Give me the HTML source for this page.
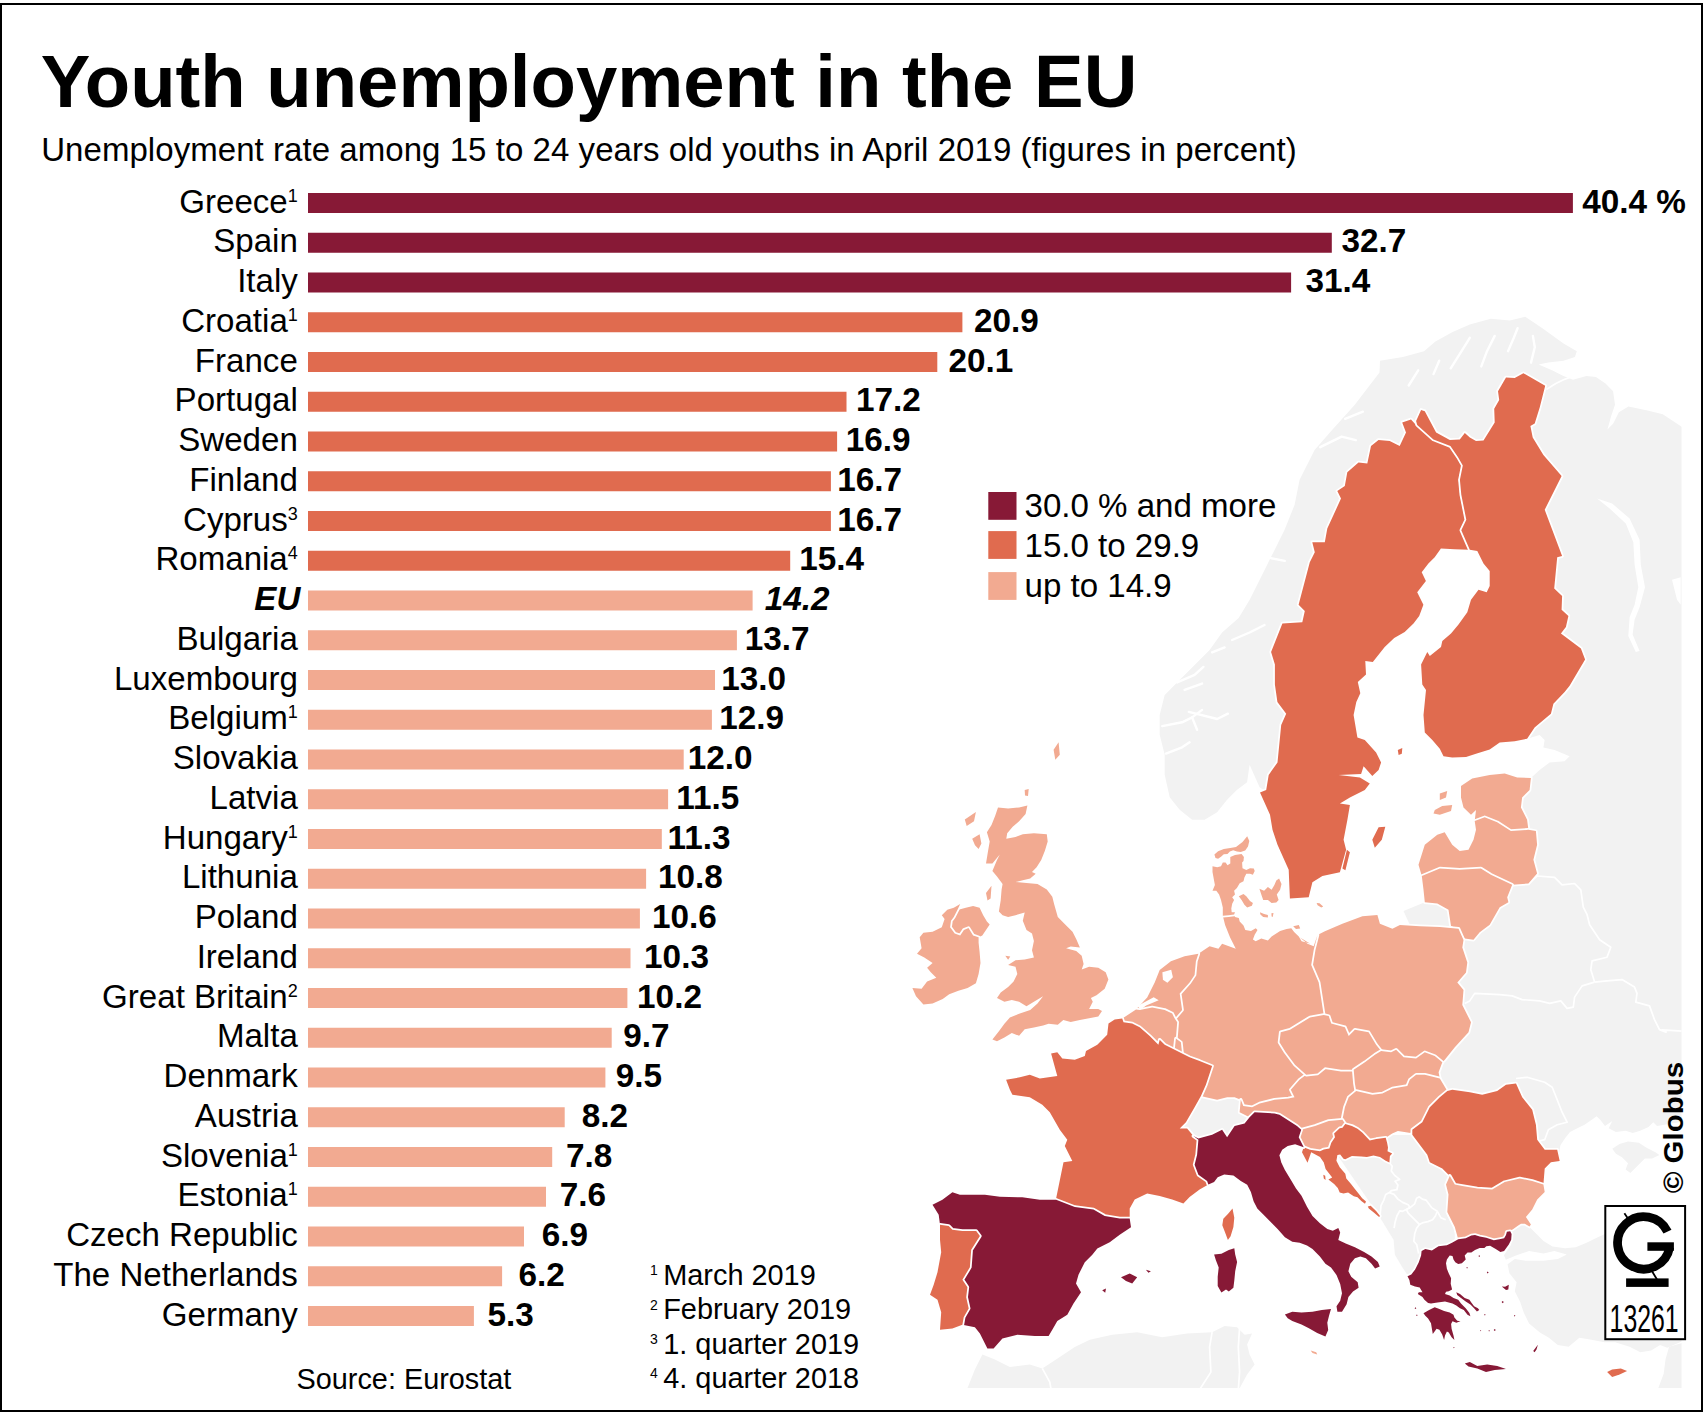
<!DOCTYPE html>
<html><head><meta charset="utf-8"><title>Youth unemployment in the EU</title>
<style>
html,body{margin:0;padding:0;background:#fff;}
body{width:1706px;height:1412px;overflow:hidden;}
svg{display:block;}
text{font-family:"Liberation Sans",sans-serif;fill:#000;}
.b{font-weight:bold;}
.i{font-style:italic;}
</style></head><body>
<svg width="1706" height="1412" viewBox="0 0 1706 1412">
<rect x="0" y="0" width="1706" height="1412" fill="#fff"/>
<defs><clipPath id="mapclip"><rect x="880" y="300" width="801.5" height="1088"/></clipPath></defs>
<g clip-path="url(#mapclip)" stroke-linejoin="round">
<path d="M1380,360.7 1402.9,356.9 1424,351.2 1435.4,341.6 1452.6,332 1469.8,324.4 1490.8,318.7 1509.9,320.6 1525.2,316.8 1542.4,328.2 1563.5,343.5 1576.8,351.2 1574.9,356.9 1563.5,360.7 1548.2,362.6 1538.6,364.5 1552,370.3 1563.5,376 1573,379.8 1586.4,376 1595.9,376.9 1605.5,383.6 1613.1,391.3 1615,404.7 1611.2,416.1 1607.4,429.5 1613.1,423.8 1618.9,412.3 1628.4,406.6 1647.5,410.4 1662.8,414.2 1685.8,429.5 1700,430 1700,1120 1693.2,1119.8 1657,1125.9 1653.3,1122.3 1648.5,1127.1 1640.1,1130.7 1632.8,1133.1 1625.6,1130.7 1615.9,1131.9 1608.7,1128.3 1612.3,1121.1 1605,1125.9 1600.2,1119.8 1596.6,1116.2 1591.8,1119.8 1584.5,1124.7 1577.3,1128.3 1570,1131.9 1565.2,1138 1560.4,1145.2 1559.2,1152.4 1520,1150 1400,1100 1400,1020 1400,940 1450,900 1470,850 1500,800 1530.9,777.9 1539.6,769.9 1549.6,762.4 1564.6,761.2 1569.6,756.2 1554.6,749.9 1543.4,747.4 1544.6,739.9 1539.6,734.9 1527.1,738.7 1500,650 1480,500 1400,500 1300,700 1267,792.3 1259.6,787.3 1249.6,764.8 1247.1,782.3 1237.1,789.8 1227.1,799.8 1217.1,812.2 1204.6,819.7 1192.1,819.7 1179.7,809.7 1169.7,797.3 1164.7,774.8 1164.7,754.8 1159.7,734.8 1159.7,714.9 1164.7,694.9 1182.1,677.4 1194.6,664.9 1209.6,649.9 1222.1,632.5 1242.1,615 1234.7,624.6 1249.7,599.7 1264.7,569.7 1274.7,549.7 1284.6,529.8 1294.6,504.8 1299.6,479.8 1314.6,449.9 1332.1,429.9 1354.6,404.9 1379.5,372.4Z" fill="#F2F2F2" stroke="none"/>
<path d="M1403.5,911 1424.8,902.2 1437.3,903.5 1448.5,909.7 1451,926 1414.8,926 1409.8,924.7Z" fill="#F2F2F2" stroke="none"/>
<path d="M1612.3,1148.8 1619.5,1144 1628,1141.6 1638.9,1142.8 1646.1,1147.6 1655.8,1152.4 1659.4,1154.9 1652.1,1158.5 1644.9,1158.5 1638.9,1164.5 1630.4,1173 1625.6,1169.4 1628,1163.3 1622,1157.3 1615.9,1153.7Z" fill="#F2F2F2" stroke="none"/>
<path d="M1337.4,1154.9 1379.9,1217.3 1387.4,1229.8 1393.6,1239.8 1394.9,1254.8 1402.3,1267.2 1407.3,1274.7 1454.8,1254.8 1454.8,1134.9 1337.4,1134.9Z" fill="#F2F2F2" stroke="none"/>
<path d="M1511.2,1233.8 1514.8,1215.9 1525.6,1215.9 1529.5,1227 1536.3,1233.8 1543.5,1241 1552.5,1246.4 1565,1248.2 1575.8,1247.3 1586.5,1242.8 1597.3,1237.4 1605.4,1233.8 1687,1224.8 1687,1341.4 1681.6,1341.4 1667.3,1347.7 1660.1,1345 1651.1,1350.4 1640.4,1352.2 1629.6,1346.8 1615.2,1342.3 1604.5,1342.3 1590.1,1339.6 1579.4,1337.8 1568.6,1346.8 1557.8,1345 1548.9,1337.8 1539.9,1332.5 1529.1,1323.5 1523.8,1312.7 1520.2,1302 1514.8,1291.2 1516.6,1282.2 1509.4,1273.3 1507.6,1264.3 1514.8,1258.9 1525.6,1260.7 1543.5,1260.7 1557.8,1258.9 1566.8,1254.4 1554.3,1250.9 1543.5,1253.5 1529.1,1250.9 1516.6,1255.3 1505.8,1259.8 1504,1255.3 1511.2,1244.6Z" fill="#F2F2F2" stroke="none"/>
<path d="M1687,1341.4 1669.1,1346.8 1665.5,1359.4 1663.7,1373.7 1658.3,1388.1 1687,1388.1Z" fill="#F2F2F2" stroke="none"/>
<path d="M967.4,1388.3 974.9,1369.6 982.4,1354.6 994.9,1359.6 1009.9,1367.1 1029.8,1364.6 1042.3,1368.4 1059.8,1357.1 1074.8,1347.1 1089.8,1339.7 1112.2,1334.7 1137.2,1332.2 1162.2,1337.2 1187.1,1333.4 1212.1,1332.2 1224.6,1325.9 1237.1,1327.2 1244.6,1334.7 1252.1,1333.4 1247.1,1344.6 1249.6,1354.6 1254.6,1364.6 1247.1,1374.6 1239.6,1388.3Z" fill="#F2F2F2" stroke="none"/>
<path d="M1200.9,1096 1205.9,1097.3 1217.1,1099.8 1227.1,1097.3 1234.6,1097.3 1240.8,1099.8 1239.6,1112.2 1249.6,1117.2 1244.6,1123.5 1234.6,1126 1227.1,1137.2 1222.1,1129.7 1212.1,1134.7 1198.4,1138.5 1193.4,1136 1187.1,1128.5 1179.7,1128.5 1185.9,1122.2 1194.6,1107.2 1200.9,1096Z" fill="#F2F2F2" stroke="none"/>
<path d="M1597.1,498.6 1612.1,503.5 1629.6,518.5 1639.6,539.8 1640.8,564.7 1645,587.2 1639.6,607.2 1634.6,619.7 1632.6,634.6 1639.6,650.9 1635.8,652.1 1628.3,635.9 1629.6,617.2 1634.6,604.7 1638.3,587.2 1634.6,564.7 1633.3,542.2 1625.8,523.5 1609.6,508.5Z" fill="#fff" stroke="none"/>
<path d="M1680.7,577.2 1672,579.7 1677,599.7 1680.7,604.7Z" fill="#fff" stroke="none"/>
<polyline points="1162.2,726.1 1182.1,722.3 1192.1,717.4 1202.1,709.9" fill="none" stroke="#fff" stroke-width="2.4" stroke-linecap="round"/>
<polyline points="1192.1,717.4 1197.1,729.8" fill="none" stroke="#fff" stroke-width="2.4" stroke-linecap="round"/>
<polyline points="1165.9,753.6 1182.1,747.3 1189.6,742.3" fill="none" stroke="#fff" stroke-width="2.4" stroke-linecap="round"/>
<polyline points="1177.2,682.4 1194.6,674.9 1203.4,666.9" fill="none" stroke="#fff" stroke-width="2.4" stroke-linecap="round"/>
<polyline points="1184.6,689.9 1202.1,683.6" fill="none" stroke="#fff" stroke-width="2.4" stroke-linecap="round"/>
<polyline points="1232.1,640 1249.6,632.5 1264.5,625" fill="none" stroke="#fff" stroke-width="2.4" stroke-linecap="round"/>
<polyline points="1212.1,652.4 1224.6,647.4" fill="none" stroke="#fff" stroke-width="2.4" stroke-linecap="round"/>
<polyline points="1188.8,711.9 1217.2,719 1227.9,713.7" fill="none" stroke="#fff" stroke-width="2.4" stroke-linecap="round"/>
<polyline points="1267,557.4 1284.7,560.9" fill="none" stroke="#fff" stroke-width="2.4" stroke-linecap="round"/>
<polyline points="1320.2,447.2 1341.6,436.6 1355.8,440.1" fill="none" stroke="#fff" stroke-width="2.4" stroke-linecap="round"/>
<polyline points="1345.1,418.8 1362.9,411.7" fill="none" stroke="#fff" stroke-width="2.4" stroke-linecap="round"/>
<polyline points="1450.7,368.3 1460.3,353.1 1469.8,337.8" fill="none" stroke="#fff" stroke-width="2.4" stroke-linecap="round"/>
<polyline points="1481.3,366.4 1487,351.2 1494.7,335.9" fill="none" stroke="#fff" stroke-width="2.4" stroke-linecap="round"/>
<polyline points="1508,351.2 1513.8,337.8 1517.6,328.2" fill="none" stroke="#fff" stroke-width="2.4" stroke-linecap="round"/>
<polyline points="1531,362.6 1534.8,347.3 1532.9,335.9" fill="none" stroke="#fff" stroke-width="2.4" stroke-linecap="round"/>
<polyline points="1433.5,374.1 1439.2,360.7" fill="none" stroke="#fff" stroke-width="2.4" stroke-linecap="round"/>
<polyline points="1408.7,385.5 1418.2,370.3" fill="none" stroke="#fff" stroke-width="2.4" stroke-linecap="round"/>
<polyline points="1389.4,1162.5 1392.2,1166.3 1391.3,1171 1395,1175.7 1399.7,1179.4 1395,1181.3 1397.9,1185 1396.9,1189.7 1391.3,1190.7 1389.4,1192.6 1385.7,1194.4 1383.8,1200.1 1381,1205.7 1380,1216" fill="none" stroke="#fff" stroke-width="1.7"/>
<polyline points="1389.4,1192.6 1394.1,1194.4 1397.9,1199.1 1402.6,1202.4 1408.2,1204.7 1410.1,1207.6 1406.3,1209.4 1402.6,1211.3 1399.7,1210.8 1396.9,1216 1395,1222.6 1394.1,1228.2" fill="none" stroke="#fff" stroke-width="1.7"/>
<polyline points="1410.1,1207.6 1414.7,1203.8 1416.6,1198.2 1419.4,1196.8 1422.3,1199.1 1426,1200.1 1428.8,1203.8 1431.6,1207.6 1437.3,1211.3 1435.4,1216 1432.6,1219.8 1427.9,1221.6 1423.2,1222.6 1419.4,1224.4 1415.7,1220.7 1412.9,1217.9 1408.2,1213.2 1406.3,1209.4 1410.1,1207.6" fill="none" stroke="#fff" stroke-width="1.7"/>
<polyline points="1419.4,1224.4 1416.6,1228.2 1414.7,1233.8 1413.8,1241.3 1416.8,1244.8 1418.6,1253.5" fill="none" stroke="#fff" stroke-width="1.7"/>
<polyline points="1437.3,1211.3 1441,1217.9 1445.7,1219.8" fill="none" stroke="#fff" stroke-width="1.7"/>
<polyline points="1528.4,883.5 1537.1,876 1554.6,877.3 1562.1,884.8 1574.6,883.5 1580.8,889.8 1583.3,907.2 1587.1,914.7 1589.6,924.7 1599.6,939.7 1610.8,947.2 1607,957.2 1592.1,960.9 1590.8,969.7 1594.6,982.1" fill="none" stroke="#fff" stroke-width="1.7"/>
<polyline points="1594.6,982.1 1582.1,985.9 1574.6,997.1 1573.3,1007.1 1567.1,1008.4 1560.8,1000.9 1549.6,1003.4 1539.6,1000.9 1522.1,999.6 1512.2,995.9 1499.7,994.6 1474.7,993.4 1469.7,1000.9 1464.7,1003.4" fill="none" stroke="#fff" stroke-width="1.7"/>
<polyline points="1594.6,982.1 1607,980.9 1622,979.6 1634.5,987.1 1637,993.4 1635.8,1002.1 1649.5,1005.9 1654.5,1019.6 1659.5,1029.6 1666,1032.1 1662,1029.8 1682,1031.1" fill="none" stroke="#fff" stroke-width="1.7"/>
<polyline points="1516,1078.5 1527.2,1077.3 1544.7,1082.3 1552.2,1087.3 1557.2,1099.8 1562.1,1112.2 1567.1,1122.2 1557.2,1124.7 1548.4,1129.7 1544.7,1139.7 1539.7,1140.9" fill="none" stroke="#fff" stroke-width="1.7"/>
<polyline points="1546.3,389.4 1555.8,383.6 1563.5,379.8 1571.1,376.9" fill="none" stroke="#fff" stroke-width="1.7"/>
<polyline points="1042.3,1368.4 1049.8,1382.1 1051.1,1389.6" fill="none" stroke="#fff" stroke-width="1.7"/>
<polyline points="1212.1,1332.2 1209.6,1347.1 1210.9,1372.1 1199.6,1389.6" fill="none" stroke="#fff" stroke-width="1.7"/>
<polyline points="1239.6,1327.2 1238.3,1347.1 1239.6,1372.1 1238.3,1389.6" fill="none" stroke="#fff" stroke-width="1.7"/>
<path d="M1402.2,422.4 1411,419.4 1416,424.9 1432.2,439.4 1449.2,446.1 1456.7,456.9 1461.6,465.4 1458.7,479.8 1460.1,494.8 1465.1,519.8 1460.1,530.3 1469.6,549.8 1454.7,549.3 1440.9,548.5 1434.7,557.2 1428.4,563.5 1421.7,572.2 1425.9,581 1417.2,592.2 1423.4,604.7 1419.2,615.9 1413.5,623.4 1404.7,632.1 1394.2,637.9 1384.7,647.1 1372.8,662.1 1365.3,660.9 1366,674.6 1357.8,682.1 1360.3,693.3 1356.3,702.1 1353.6,715 1357.4,737.4 1364.8,739.9 1376.1,752.4 1381.1,762.4 1378.6,769.9 1372.3,776.1 1363.6,766.2 1361.1,773.9 1338.6,774.9 1359.9,777.4 1369.8,783.6 1364.8,789.9 1349.9,797.4 1339.9,803.6 1349.9,804.9 1347.4,819.8 1343.6,839.8 1346.1,849.8 1339.9,872.3 1322.4,876 1312.4,882.3 1308.7,897.2 1289.9,898.5 1288.7,869.8 1277.5,844.8 1272.5,829.8 1270,814.8 1260,792.4 1266.2,789.9 1268.7,774.9 1277.5,762.4 1281.2,725 1286.2,713.7 1277.4,702.1 1274.9,684.6 1274.9,664.6 1271.1,652.1 1282.4,623.4 1302.3,622.2 1304.8,610.9 1298.6,604.7 1309.8,562.2 1314.8,552.2 1312.3,542.3 1324.8,542.3 1327.3,528.5 1341,498.6 1337.3,491.1 1344.8,486.1 1347.3,472.3 1358.5,462.4 1367.3,463.6 1371,446.1 1378.5,439.9 1389.7,441.1 1399.7,446.1 1406,432.4ZM1378.6,827.3 1385.3,826.8 1381.8,839.8 1374.8,847.8 1372.3,839.8ZM1346.9,849.8 1349.9,852.3 1345.4,870.3 1342.4,868.5Z" fill="#E06B4F" stroke="#fff" stroke-width="3.5" style="paint-order:stroke"/>
<path d="M1421.1,409.9 1424.8,411.2 1436.1,432.4 1449.8,439.9 1459.8,439.4 1464.8,432.9 1469.8,437.4 1476,441.1 1483.5,440.6 1494.7,422.4 1494.2,408.7 1499.2,399.9 1498,391.2 1506,377.5 1514.7,378 1523.4,373.2 1545.2,385.7 1539.7,407.4 1534.7,423.6 1530.4,426.1 1532.7,437.4 1543.4,454.9 1561.6,476.1 1544.7,509.8 1562.1,556 1557.2,557.2 1554.2,588.4 1562.1,595.9 1561.6,609.7 1568.4,615.9 1565.9,627.1 1560.9,633.4 1580.9,648.4 1585.1,659.6 1569.6,685.8 1564.6,692.1 1553.4,703.7 1550.9,713.7 1534.6,727.5 1527.1,738.7 1514.7,741.2 1499.7,742.4 1489.7,749.4 1476,753.7 1466,756.9 1452.2,757.4 1443.5,756.2 1439.8,748.7 1432.3,739.9 1424.8,732.4 1423.5,715 1426,690 1422.3,684.6 1421.1,664.6 1427.3,652.1 1429.8,655.9 1441,647.1 1442.3,640.9 1451,633.4 1458.5,624.6 1467.3,612.2 1471,599.7 1478.5,589.7 1486.7,592.2 1489.7,585.9 1489.7,571 1483.5,563.5 1477.3,551 1469.8,549.7 1461.3,530.3 1466.3,519.8 1461.3,494.8 1459.9,479.8 1462.8,465.4 1457.9,456.9 1450.4,446.1 1433.4,439.4 1417.2,424.9 1416.1,421.1ZM1397.8,749.9 1402.3,747.9 1401.8,753.7 1398.6,754.9Z" fill="#E06B4F" stroke="#fff" stroke-width="3.5" style="paint-order:stroke"/>
<path d="M1461,786.1 1472.2,778.6 1489.7,774.9 1504.7,773.6 1517.2,777.4 1530.9,777.9 1529.6,789.9 1522.1,797.4 1520.9,807.4 1527.1,819.8 1528.4,829.8 1510.9,831.1 1497.2,822.3 1484.7,817.3 1474.7,821.1 1476,809.9 1471,814.8 1463.5,807.4 1461,797.4ZM1439.8,793.6 1447.2,791.1 1446,797.4 1439.8,799.9ZM1434.8,809.9 1442.2,806.1 1452.2,804.9 1451,811.1 1439.8,814.8 1433.5,813.6Z" fill="#F2AA91" stroke="#fff" stroke-width="3.5" style="paint-order:stroke"/>
<path d="M1474.7,821.1 1484.7,817.3 1497.2,822.3 1510.9,831.1 1528.4,829.8 1535.9,831.1 1537.1,844.8 1533.4,859.8 1537.1,873.5 1528.4,883.5 1512.2,884.8 1490.9,874.8 1480.9,868.5 1459.7,869.8 1439.8,868.5 1421.8,876 1418.5,864.8 1424.8,844.8 1437.3,834.8 1444.7,832.3 1452.2,844.8 1459.7,851 1468.5,849.8 1473.5,839.8 1476,829.8Z" fill="#F2AA91" stroke="#fff" stroke-width="3.5" style="paint-order:stroke"/>
<path d="M1421.8,876 1439.8,868.5 1459.7,869.8 1480.9,868.5 1490.9,874.8 1512.2,884.8 1507.2,897.2 1508.4,902.2 1499.7,907.2 1489.7,924.7 1479.7,932.2 1473.5,939.7 1464.7,938.4 1457.2,928.5 1451,926 1448.5,909.7 1437.3,903.5 1424.8,902.2 1423.5,889.8Z" fill="#F2AA91" stroke="#fff" stroke-width="3.5" style="paint-order:stroke"/>
<path d="M1317.5,935 1324.9,931.2 1342.4,923.7 1362.4,916.2 1377.4,915 1379.9,923.7 1392.4,928.7 1399.9,925 1419.8,926.2 1439.8,927 1458.5,928.7 1463.5,940 1462.3,947.4 1467.3,962.4 1466,972.4 1457.3,982.4 1463.5,989.9 1462.3,1004.9 1471,1022.3 1468.5,1032.3 1454.8,1047.3 1444.8,1059.8 1442.3,1062.3 1434.8,1056.1 1424.8,1052.3 1416.1,1058.6 1403.6,1057.3 1396.1,1049.8 1391.1,1052.3 1381.1,1051.1 1381.1,1051.1 1376.1,1044.8 1368.6,1032.3 1354.9,1029.8 1348.7,1036.1 1344.9,1027.3 1331.2,1023.6 1328.7,1016.1 1323.7,1014.9 1323.7,1014.9 1318.7,982.4 1311.2,964.9 1313.7,949.9 1317.5,935Z" fill="#F2AA91" stroke="#fff" stroke-width="3.5" style="paint-order:stroke"/>
<path d="M1198.4,953.7 1209.6,946.2 1218.4,948.7 1222.1,943.7 1235.8,948.7 1230.1,937.5 1225.1,925 1222.8,915.8 1228.5,915.3 1234.1,914.6 1235,916.9 1238.8,917.9 1239.7,921.6 1243.5,925.4 1245.3,930.1 1251,931 1255.7,928.2 1257.5,930.1 1254.7,934.8 1252.9,939.5 1255.7,941.3 1261.3,938.5 1267.9,940.4 1271.6,936.6 1280.1,931 1286.6,929.1 1291.3,928.2 1294.1,932 1298.8,936.6 1301.6,941.3 1309.9,943.4 1300,937.5 1307.5,943.7 1313.7,946.2 1317.5,935 1313.7,949.9 1311.2,964.9 1318.7,982.4 1323.7,1014.9 1310,1017.4 1290,1029.8 1280.7,1032.3 1279.5,1042.3 1285.7,1052.3 1295,1064.8 1306.2,1074.8 1299.5,1079.8 1290.8,1089.8 1294.5,1097.3 1288.3,1098.5 1274.5,1099.8 1259.6,1103.5 1252.1,1107.2 1243.3,1106 1240.8,1099.8 1234.6,1097.3 1227.1,1097.3 1217.1,1099.8 1205.9,1097.3 1200.9,1096 1205.9,1084.8 1212.1,1066 1199.6,1061 1189.6,1057.3 1182.1,1053.6 1180.9,1042.3 1175.9,1038.6 1177.2,1022.3 1174.7,1018.6 1182.1,1009.9 1179.7,993.6 1189.6,982.4 1194.6,974.9 1195.9,961.2 1198.4,953.7ZM1293.2,926.3 1298.8,924.9 1300.2,928.4 1296,928.9Z" fill="#F2AA91" stroke="#fff" stroke-width="3.5" style="paint-order:stroke"/>
<path d="M1198.4,953.7 1195.9,961.2 1194.6,974.9 1189.6,982.4 1179.7,993.6 1182.1,1009.9 1174.7,1018.6 1172.2,1013.6 1164.7,1009.9 1152.2,1007.4 1139.7,1009.9 1136,1009.4 1147.2,997.4 1154.7,982.4 1159.7,969.9 1170.9,961.2 1184.6,956.2Z" fill="#F2AA91" stroke="#fff" stroke-width="3.5" style="paint-order:stroke"/>
<path d="M1136,1009.4 1139.7,1009.9 1152.2,1007.4 1164.7,1009.9 1172.2,1013.6 1174.7,1018.6 1177.2,1022.3 1175.9,1038.6 1174.7,1049.8 1164.7,1044.8 1159.7,1039.8 1158.4,1044.8 1149.7,1036.1 1139.7,1027.3 1132.2,1023.6 1123.5,1022.3 1122.2,1018.6Z" fill="#F2AA91" stroke="#fff" stroke-width="3.5" style="paint-order:stroke"/>
<path d="M1175.9,1038.6 1180.9,1042.3 1182.1,1053.6 1174.7,1049.8Z" fill="#F2AA91" stroke="#fff" stroke-width="3.5" style="paint-order:stroke"/>
<path d="M1122.2,1018.6 1123.5,1022.3 1132.2,1023.6 1139.7,1027.3 1149.7,1036.1 1158.4,1044.8 1159.7,1039.8 1164.7,1044.8 1174.7,1049.8 1182.1,1053.6 1189.6,1057.3 1199.6,1061 1212.1,1066 1205.9,1084.8 1200.9,1096 1194.6,1107.2 1185.9,1122.2 1179.7,1128.5 1187.1,1128.5 1193.4,1136 1198.4,1139.7 1197.1,1154.7 1194.6,1164.7 1198.4,1174.7 1207.1,1180.9 1208.4,1184.6 1199.6,1189.6 1189.6,1197.1 1183.4,1203.4 1172.2,1199.6 1159.7,1195.9 1147.2,1193.4 1134.7,1199.6 1129.7,1208.4 1129.7,1218.4 1119.7,1218.4 1104.7,1215.9 1093.5,1209.6 1074.8,1207.1 1056.1,1198.4 1063.5,1162.2 1072.3,1160.9 1064.8,1145.9 1067.3,1139.7 1059.8,1129.7 1049.8,1112.2 1042.3,1104.7 1029.8,1097.3 1012.4,1094.8 1009.9,1089.8 1006.1,1079.8 1019.9,1077.3 1029.8,1074.8 1039.8,1078.5 1057.3,1076 1051.1,1053.6 1057.3,1052.3 1062.3,1058.6 1074.8,1059.8 1084.8,1056.1 1086,1051.1 1097.3,1044.8 1107.2,1034.8 1108.5,1023.6 1114.7,1019.4ZM1232.5,1208.6 1234.3,1217.8 1233.4,1227 1230.6,1236.2 1227.9,1239.9 1225.1,1232.5 1222.3,1225.2 1223.3,1218.7 1227.9,1214.1Z" fill="#E06B4F" stroke="#fff" stroke-width="3.5" style="paint-order:stroke"/>
<path d="M998,807.5 1008.1,808.4 1019.1,807.5 1027.4,805.6 1025.6,813.9 1019.1,821.3 1012.7,826.8 1007.2,833.3 1006.3,838.8 1015.5,836.9 1022.8,834.2 1033.9,833.3 1046.8,834.2 1047.7,841.5 1044.9,850.8 1041.2,860 1036.6,867.3 1032,871.9 1035.7,873.8 1030.2,878.4 1022.8,880.2 1015.5,882 1026.5,883 1037.5,883.9 1046.8,889.4 1052.3,896.8 1054.1,904.1 1057.8,917 1065.2,924.4 1072.5,931.8 1076.2,939.1 1079.9,947.4 1070.7,946.5 1066.1,948.3 1076.2,951.1 1081.7,955.7 1083.6,964 1081.7,969.5 1089.1,966.7 1098.3,967.7 1105.7,972.3 1108.4,979.6 1104.7,988.8 1096.5,995.3 1090.9,998 1092.8,1001.7 1089.1,1009.1 1098.3,1009.1 1102,1010.9 1098.3,1016.4 1089.1,1018.3 1079.9,1020.1 1070.7,1022 1063.3,1020.1 1057.8,1024.7 1048.6,1023.8 1043.1,1025.6 1033.9,1027.5 1024.7,1029.3 1019.1,1035.8 1011.8,1033 1004.4,1037.6 997,1041.3 992.4,1039.4 998.9,1031.2 1004.4,1023.8 1009.9,1017.4 1019.1,1013.7 1030.2,1010 1037.5,1003.5 1043.1,996.2 1033.9,1001.7 1026.5,1006.3 1019.1,1001.7 1011.8,999.9 1004.4,1001.7 997,998 1000.7,992.5 1008.1,987 1013.6,981.5 1017.3,974.1 1015.5,966.7 1008.1,964.9 1015.5,960.3 1024.7,959.4 1033.9,957.5 1032,950.2 1033.9,941 1032,933.6 1026.5,929.9 1022.8,920.7 1024.7,912.4 1015.5,915.2 1008.1,917 1002.6,915.2 998.9,911.5 1000.7,900.5 1001.6,889.4 1002.6,883.9 997,876.5 992.4,871 997,860 999.8,854.4 992.4,863.6 986,863.6 987.8,852.6 989.7,841.5 986.9,832.3 991.5,825 995.2,815.8ZM953.8,917 958.4,909.7 965.8,907.8 973.1,906 979.6,907.8 983.2,915.2 986.9,921.6 989.7,924.4 986,929.9 982.3,935.4 978.6,937.3 973.1,935.4 968.5,928.1 963.9,929.9 960.2,935.4 954.7,933.6 950.1,927.2 951,920.7 953.8,917ZM964.8,819.5 975.9,812.1 974,821.3 966.7,825.9ZM972.2,838.8 979.6,834.2 981.4,843.4 978.6,848.9 975,845.2ZM986,893.1 991.5,885.7 990.6,898.6 987.5,900.5ZM1024.7,790 1028.7,789.1 1028,795.9 1025,795.5ZM1053.6,749.8 1058.6,742.3 1059.8,754.8 1055.3,759.8ZM1005.3,955.7 1010.3,956.6 1008.1,959.7Z" fill="#F2AA91" stroke="#fff" stroke-width="3.5" style="paint-order:stroke"/>
<path d="M953.8,917 951,920.7 950.1,927.2 954.7,933.6 960.2,935.4 963.9,929.9 968.5,928.1 973.1,935.4 978.6,937.3 978.6,942.8 979.6,952 980.5,963 978.6,974.1 975.9,983.3 967.6,987.9 958.4,990.7 949.2,994.3 942.7,998.9 932.6,1003.5 923.4,1004.5 916,996.2 912.4,987.9 921.6,988.8 927.1,981.5 936.3,977.8 930.8,972.3 927.1,967.7 932.6,963 924.3,957.5 917,953.8 921.6,948.3 919.7,937.3 923.4,932.7 932.6,931.8 941.8,927.2 944.6,918.9 941.8,915.2 947.3,909.7 953.8,907.8 960.2,904.1 957.5,909.7Z" fill="#F2AA91" stroke="#fff" stroke-width="3.5" style="paint-order:stroke"/>
<path d="M952.4,1192.3 959.9,1194.8 984.9,1194.8 999.9,1196.8 1022.3,1197.3 1039.8,1199.8 1056.1,1199.8 1074.8,1207.1 1093.5,1209.6 1104.7,1215.9 1119.7,1218.4 1129.7,1218.4 1131,1227.3 1119.7,1234.8 1109.7,1242.3 1097.3,1248.5 1092.3,1254.8 1084.8,1262.2 1078.5,1274.7 1076,1283.5 1081,1292.2 1073.5,1303.4 1067.3,1314.7 1057.3,1320.9 1052.3,1329.7 1048.6,1335.9 1034.8,1335.9 1017.4,1334.7 1002.4,1338.4 993.6,1348.4 987.4,1348.4 979.9,1333.4 974.9,1327.2 962.4,1324.7 963.7,1317.2 968.7,1308.4 966.2,1297.2 967.4,1287.2 962.4,1279.7 969.9,1267.2 971.2,1249.8 979.9,1236 976.2,1231 962.4,1231 952.4,1229.8 948.7,1226 940,1224.8 938.7,1214.8 932.5,1204.8 942.4,1199.8ZM1121,1277.2 1129.7,1273.5 1137.2,1277.2 1132.2,1283.5 1126,1281ZM1145.9,1269.7 1150.9,1271.2 1148.4,1272.7ZM1102.2,1290.2 1106,1288.5 1105.2,1292.7Z" fill="#871936" stroke="#fff" stroke-width="3.5" style="paint-order:stroke"/>
<path d="M940,1224.8 948.7,1226 952.4,1229.8 962.4,1231 976.2,1231 979.9,1236 971.2,1249.8 969.9,1267.2 962.4,1279.7 967.4,1287.2 966.2,1297.2 968.7,1308.4 963.7,1317.2 962.4,1324.7 952.4,1328.4 940,1329.7 941.2,1312.2 937.5,1299.7 930,1294.7 933.7,1284.7 937.5,1272.2 941.2,1252.3 940,1239.8Z" fill="#E06B4F" stroke="#fff" stroke-width="3.5" style="paint-order:stroke"/>
<path d="M1240.8,1099.8 1243.3,1106 1252.1,1107.2 1259.6,1103.5 1274.5,1099.8 1288.3,1098.5 1294.5,1097.3 1290.8,1089.8 1299.5,1079.8 1306.2,1074.8 1317.5,1073.5 1324.9,1067.3 1341.2,1069.8 1353.7,1069.8 1354.9,1083.5 1356.2,1091 1348.7,1097.3 1344.9,1107.2 1342.4,1119.7 1328.7,1121 1315,1126 1301.2,1129.7 1301.2,1129.7 1297,1126 1279.5,1114.7 1274.5,1113.5 1254.6,1112.2 1249.6,1117.2 1239.6,1112.2Z" fill="#F2AA91" stroke="#fff" stroke-width="3.5" style="paint-order:stroke"/>
<path d="M1306.2,1074.8 1295,1064.8 1285.7,1052.3 1279.5,1042.3 1280.7,1032.3 1290,1029.8 1310,1017.4 1323.7,1014.9 1328.7,1016.1 1331.2,1023.6 1344.9,1027.3 1348.7,1036.1 1354.9,1029.8 1368.6,1032.3 1376.1,1044.8 1381.1,1051.1 1374.9,1054.8 1364.9,1062.3 1353.7,1069.8 1341.2,1069.8 1324.9,1067.3 1317.5,1073.5 1306.2,1074.8Z" fill="#F2AA91" stroke="#fff" stroke-width="3.5" style="paint-order:stroke"/>
<path d="M1353.7,1069.8 1364.9,1062.3 1374.9,1054.8 1381.1,1051.1 1391.1,1052.3 1396.1,1049.8 1403.6,1057.3 1416.1,1058.6 1424.8,1052.3 1434.8,1056.1 1442.3,1062.3 1438.6,1072.3 1439.8,1078.5 1424.8,1074.8 1416.1,1074.8 1409.8,1079.8 1407.3,1086 1392.4,1088.5 1382.4,1093.5 1372.4,1094.8 1356.2,1091 1354.9,1083.5 1353.7,1069.8Z" fill="#F2AA91" stroke="#fff" stroke-width="3.5" style="paint-order:stroke"/>
<path d="M1356.2,1091 1372.4,1094.8 1382.4,1093.5 1392.4,1088.5 1407.3,1086 1409.8,1079.8 1416.1,1074.8 1424.8,1074.8 1439.8,1078.5 1447.3,1091 1439.8,1097.3 1429.8,1107.2 1422.3,1122.2 1412.3,1129.7 1410.5,1133 1404.4,1132 1397.9,1131.1 1392.2,1133.5 1385.7,1137.7 1376.3,1139.1 1369.7,1140.5 1362.2,1132.5 1357.5,1128.8 1351.9,1125.9 1345.3,1124.1 1342.4,1119.7 1344.9,1107.2 1348.7,1097.3 1356.2,1091Z" fill="#F2AA91" stroke="#fff" stroke-width="3.5" style="paint-order:stroke"/>
<path d="M1301.2,1129.7 1315,1126 1328.7,1121 1342.4,1119.7 1345.3,1124.1 1342.5,1127.8 1339.7,1128.3 1334.1,1133.5 1335,1137.2 1331.3,1142.8 1329.4,1148.5 1323.8,1149.4 1320,1151.3 1310,1149.7 1303.7,1147.2 1298.7,1137.2Z" fill="#F2AA91" stroke="#fff" stroke-width="3.5" style="paint-order:stroke"/>
<path d="M1345.3,1124.1 1351.9,1125.9 1357.5,1128.8 1362.2,1132.5 1369.7,1140.5 1376.3,1139.1 1385.7,1137.7 1387.1,1142.8 1388,1147.5 1387.5,1151.3 1392.2,1153.6 1389.9,1156 1389.4,1162.5 1385.7,1160.7 1380,1156.9 1373.5,1155.5 1366.9,1156.9 1361.3,1156.4 1351.9,1156 1345.3,1159.2 1343.5,1158.8 1340.2,1154.6 1337.4,1155 1336.4,1160.7 1339.7,1167.2 1345.3,1173.8 1346.3,1178.5 1351,1184.1 1354.7,1188.8 1358.5,1193.5 1362.2,1198.2 1366,1201.5 1365,1203.8 1361.3,1201 1357.5,1197.2 1353.8,1196.3 1348.1,1192.6 1343.5,1193.5 1339.7,1192.6 1337.8,1187.9 1334.1,1184.1 1328.4,1179.4 1332.2,1177.5 1325.6,1169.1 1323.8,1162.5 1320,1156.9 1311.2,1152.2 1307.5,1162.7 1302,1152.2 1303.7,1147.2 1310,1149.7 1320,1151.3 1323.8,1149.4 1329.4,1148.5 1331.3,1142.8 1335,1137.2 1334.1,1133.5 1339.7,1128.3 1342.5,1127.8 1345.3,1124.1ZM1367.8,1206.6 1370.7,1205.7 1376.3,1211.3 1380,1216 1379.1,1216.9 1373.5,1212.3 1368.8,1208.5ZM1323.3,1174.7 1325.2,1175.7 1325.6,1179.9 1323.8,1178.5Z" fill="#E06B4F" stroke="#fff" stroke-width="3.5" style="paint-order:stroke"/>
<path d="M1208.4,1184.6 1207.1,1180.9 1198.4,1174.7 1194.6,1164.7 1197.1,1154.7 1198.4,1139.7 1193.4,1136 1198.4,1138.5 1212.1,1134.7 1222.1,1129.7 1227.1,1137.2 1234.6,1126 1244.6,1123.5 1249.6,1117.2 1249.6,1117.2 1254.6,1112.2 1274.5,1113.5 1279.5,1114.7 1297,1126 1301.2,1129.7 1298.7,1137.2 1303.7,1147.2 1295.1,1144.2 1287.7,1146 1282.2,1149.7 1279.4,1155.2 1281.3,1162.6 1284.9,1170 1290.5,1179.2 1296,1188.4 1301.5,1195.7 1307,1206.8 1312.5,1216 1319.9,1223.3 1327.3,1228.9 1332.8,1230.7 1338.3,1227.9 1340.2,1232.5 1338.3,1239.9 1345.7,1243.6 1354.9,1247.3 1364.1,1251.9 1371.5,1256.5 1377.9,1262 1379.7,1266.6 1375.1,1268.4 1371.5,1263.8 1365.9,1258.3 1360.4,1256.5 1354.9,1258.3 1350.3,1263.8 1348.4,1271.2 1351.2,1276.7 1357.7,1282.3 1358.6,1287.8 1353,1291.5 1348.4,1297 1346.6,1304.3 1342,1311.7 1337.4,1311.7 1336.5,1306.2 1340.2,1300.7 1342,1293.3 1340.2,1284.1 1336.5,1274.9 1331,1267.5 1325.4,1263.8 1319.9,1256.5 1312.5,1249.1 1307,1245.4 1299.7,1242.7 1292.3,1241.8 1284.9,1237.2 1277.6,1228.9 1270.2,1221.5 1262.8,1214.1 1257.3,1208.6 1253.6,1201.3 1250.9,1192 1247.2,1184.7 1240.8,1181 1233.4,1175.5 1224.2,1174.6 1217.7,1177.3 1214.1,1181.9ZM1284.9,1314.5 1292.3,1311.7 1301.5,1312.6 1312.5,1311.7 1321.8,1309.9 1331,1308.9 1329.1,1315.4 1327.3,1322.8 1328.2,1330.1 1325.4,1336.6 1317.2,1332.9 1308.9,1328.3 1301.5,1324.6 1292.3,1320.9 1287.7,1318.2ZM1214.1,1254.6 1221.4,1253.7 1228.8,1250 1234.3,1248.2 1235.2,1254.6 1237.1,1262 1235.2,1271.2 1234.3,1280.4 1233.4,1287.8 1228.8,1291.5 1226,1289.6 1221.4,1292.4 1217.7,1285.9 1217.7,1276.7 1218.7,1267.5 1215.9,1260.2Z" fill="#871936" stroke="#fff" stroke-width="3.5" style="paint-order:stroke"/>
<path d="M1412.3,1129.7 1422.3,1122.2 1429.8,1107.2 1439.8,1097.3 1447.3,1091 1452.3,1089.8 1469.8,1092.3 1482.2,1094.8 1497.2,1091 1506,1084.8 1516,1083.5 1522.2,1097.3 1532.2,1109.7 1535.9,1124.7 1537.2,1139.7 1544.7,1149.7 1557.2,1149.7 1559.7,1160.9 1550.9,1162.2 1544.7,1168.4 1543.4,1184.6 1532.2,1180.9 1519.7,1178.4 1504.7,1182.1 1492.2,1189.6 1477.3,1188.4 1462.3,1185.9 1454.8,1184.6 1449.8,1175.9 1442.3,1168.4 1429.8,1162.2 1427.3,1154.7 1419.8,1144.7 1412.3,1134.7Z" fill="#E06B4F" stroke="#fff" stroke-width="3.5" style="paint-order:stroke"/>
<path d="M1449.8,1175.9 1454.8,1184.6 1462.3,1185.9 1477.3,1188.4 1492.2,1189.6 1504.7,1182.1 1519.7,1178.4 1532.2,1180.9 1543.4,1184.6 1544.7,1192.1 1537.2,1199.6 1532.2,1209.6 1525.9,1217.1 1530.9,1224.6 1529.5,1226.6 1524.8,1223.8 1521,1223.8 1518.2,1225.6 1512.6,1229.4 1506.9,1231.7 1506,1235 1504.1,1238.3 1499.4,1239.2 1493.8,1240.2 1486.3,1237.8 1479.7,1236.4 1475,1235 1471.3,1235.5 1465.7,1238.3 1458.2,1239.2 1454.8,1227.1 1447.3,1212.1 1448.5,1194.6 1446,1184.6Z" fill="#F2AA91" stroke="#fff" stroke-width="3.5" style="paint-order:stroke"/>
<path d="M1421.6,1251 1425.3,1249.1 1431.9,1250.5 1438.5,1246.3 1446.9,1245.3 1452.5,1242.5 1458.2,1239.2 1465.7,1238.3 1471.3,1235.5 1475,1235 1479.7,1236.4 1486.3,1237.8 1493.8,1240.2 1499.4,1239.2 1504.1,1238.3 1506,1235 1506.9,1231.7 1510.2,1231.3 1511.6,1234.1 1511.2,1239.7 1508.8,1244.4 1504.1,1251 1500.4,1251.9 1495.7,1249.1 1490.1,1245.8 1486.3,1246.3 1484.4,1248.1 1479.7,1248.1 1475,1250 1471.3,1252.4 1467.5,1252.4 1464.7,1255.6 1465.7,1259.4 1461.9,1263.2 1458.2,1264.1 1455.3,1262.2 1453.5,1259.4 1452.5,1256.1 1449.7,1255.6 1446.9,1259.4 1446,1263.2 1446.9,1268.8 1448.8,1273.5 1451.1,1278.2 1450.7,1283.8 1452.1,1289.4 1448.8,1291.3 1446,1291.8 1445,1294.1 1449.7,1295.5 1453.5,1297.9 1458.2,1299.7 1461,1303.5 1465.7,1308.2 1469.4,1312.9 1470.4,1316.2 1467.5,1314.7 1463.8,1310.1 1460,1308.2 1456.3,1305.4 1452.5,1303.5 1448.8,1302.6 1445,1301.6 1437.5,1302.6 1431,1303.5 1428.1,1303 1424.4,1299.7 1422.5,1296.9 1417.8,1294.1 1418.8,1292.2 1422.5,1292.2 1419.7,1287.5 1415,1286.6 1410.3,1284.7 1409.4,1280 1407.5,1276.3 1411.3,1274.4 1415,1269.7 1418.8,1262.2 1421.1,1255.6ZM1423.5,1313.3 1429.1,1310.1 1434.7,1307.2 1439.4,1309.1 1444.1,1311 1449.7,1312.4 1453.5,1314.7 1454.4,1317.6 1457.2,1320.8 1460.5,1321.3 1456.3,1322.7 1452.5,1321.3 1451.1,1324.1 1451.6,1328.8 1453.5,1335.4 1454.4,1340.1 1451.6,1337.3 1448.8,1332.6 1446.9,1331.6 1445,1335.4 1444.1,1340.1 1442.2,1334.4 1439.4,1329.8 1436.6,1328.8 1432.8,1334 1431.9,1328.8 1431,1323.2 1428.1,1318.5 1425.3,1315.7ZM1464.8,1363.4 1469.8,1362.1 1477.3,1365.9 1487.2,1364.6 1497.2,1365.9 1506,1369.1 1494.7,1370.1 1486,1372.1 1477.3,1368.4 1468.5,1366.6ZM1533.2,1350.9 1537.9,1344.8 1536.5,1349.5 1534.6,1352.3ZM1456.3,1292.2 1460,1294.1 1464.7,1297.9 1469.4,1299.7 1471.3,1302.6 1474.1,1306.3 1477.9,1308.2 1479.3,1310.1 1476.9,1311.5 1474.1,1308.2 1470.4,1304.4 1465.7,1301.6 1461,1297.9 1457.2,1295ZM1501.8,1286.4 1505.1,1286.8 1508.8,1284.7 1508.3,1289.4 1506,1289.9ZM1478.4,1256.1 1479.3,1255.3 1480.1,1256.1 1479.3,1257ZM1486.8,1272.5 1487.7,1271.6 1488.6,1272.5 1487.7,1273.5ZM1501.6,1302.1 1502.7,1301 1503.8,1302.1 1502.7,1303.2ZM1513.9,1315.7 1514.6,1314.9 1515.4,1315.7 1514.6,1316.4ZM1493.7,1329.9 1494.7,1328.9 1495.8,1329.9 1494.7,1331ZM1488.5,1330.7 1489.1,1330 1489.8,1330.7 1489.1,1331.4ZM1414.6,1308.2 1415.5,1307.3 1416.3,1308.2 1415.5,1309ZM1416.1,1315.2 1416.9,1314.5 1417.6,1315.2 1416.9,1316ZM1466.3,1267.8 1467.1,1267.1 1467.8,1267.8 1467.1,1268.6ZM1484.1,1314.7 1484.9,1314 1485.6,1314.7 1484.9,1315.5ZM1480.1,1330.7 1480.7,1330.1 1481.2,1330.7 1480.7,1331.3ZM1453.3,1347.6 1453.9,1346.9 1454.6,1347.6 1453.9,1348.2Z" fill="#871936" stroke="#fff" stroke-width="3.5" style="paint-order:stroke"/>
<path d="M1607.1,1372.1 1612.1,1369.6 1620.8,1368.4 1627.1,1370.9 1619.6,1374.6 1612.1,1377.1Z" fill="#E06B4F" stroke="#fff" stroke-width="3.5" style="paint-order:stroke"/>
<path d="M1310.7,1350.4 1316.2,1352.2 1317.2,1354.4 1312.5,1353.1Z" fill="#F2AA91" stroke="#fff" stroke-width="3.5" style="paint-order:stroke"/>
<path d="M1214.4,854.6 1218.1,851.3 1223.8,848.9 1230.3,848 1236,847.1 1242.5,841.9 1247.2,836.3 1249.3,841 1248,846.6 1245.2,850.5 1240.7,851.9 1236.9,851.5 1233.2,850.2 1229.9,851.5 1227.5,853.9 1223.8,854.3 1221,856.7 1218.1,858.8 1215.5,858ZM1212.5,866.3 1217.2,867.2 1221,866.3 1222.8,862.5 1225.6,862.5 1227.5,865.3 1230.3,863.5 1230.3,856.9 1235,855 1241.6,854.1 1243.9,856.9 1243.5,861.1 1242.1,862.5 1242.5,868.2 1246.3,870 1250,868.2 1253.8,868.6 1254.7,871 1252.9,874.7 1250,873.8 1246.3,873.8 1244.4,877.5 1243.5,881.3 1239.7,883.2 1236.9,887.9 1234.1,890.7 1235,894.4 1232.2,897.2 1234.1,900.1 1232.2,903.8 1231.3,908.5 1231.7,912.3 1235,912.3 1234.1,914.6 1228.5,915.3 1222.8,915.8 1222.8,907.6 1221,900.1 1219.1,894.4 1216.3,890.7 1212.5,890.7 1214.9,885 1213.5,877.5 1212.5,871.9ZM1238.8,896.3 1243.5,894 1246.3,896.3 1250,901 1252.9,902.9 1251.9,905.7 1247.2,907.6 1244.4,904.7 1241.6,900.1ZM1259.4,888.8 1264.1,890.7 1267.9,886.9 1271.6,889.7 1274.4,885 1276.3,880.4 1279.1,878.5 1281.5,884.1 1280.1,889.7 1276.8,894.4 1278.6,900.1 1276.3,902.4 1271.6,902.9 1267.9,900.1 1263.2,900.1 1261.3,894.4ZM1259.9,912.3 1264.1,914.1 1267.9,915.1 1267.9,917.4 1263.2,916.9 1260.4,914.6ZM1271.4,913.2 1273.5,913 1272.7,916.9 1271.6,916.5ZM1316.6,902.9 1319.5,903.3 1323.2,906.6 1321.3,907.6 1317.6,905.2Z" fill="#F2AA91" stroke="#fff" stroke-width="3.5" style="paint-order:stroke"/>
<path d="M1162.4,972.3 1171.2,969.8 1172.9,977.3 1167.4,982.7 1162.9,979.8Z" fill="#fff" stroke="none"/>
<path d="M1137.5,1006 1153.7,997.2 1158.7,1000.2 1146.2,1005.5 1140.4,1009.7Z" fill="#fff" stroke="none"/>
</g>
<path d="M1 1412V4H1702V1411H0" fill="none" stroke="#000" stroke-width="2"/>
<text class="b" x="40.8" y="106.6" font-size="73.6" textLength="1096.5" lengthAdjust="spacingAndGlyphs">Youth unemployment in the EU</text>
<text x="41.2" y="160.8" font-size="33" textLength="1255.5" lengthAdjust="spacing">Unemployment rate among 15 to 24 years old youths in April 2019 (figures in percent)</text>
<rect x="308" y="193.00" width="1264.9" height="20" fill="#871936"/>
<text x="297.8" y="212.50" font-size="33.1" text-anchor="end">Greece<tspan font-size="18" dy="-11">1</tspan></text>
<text class="b" x="1582.3" y="212.60" font-size="33.3">40.4 %</text>
<rect x="308" y="232.75" width="1023.8" height="20" fill="#871936"/>
<text x="297.8" y="252.25" font-size="33.1" text-anchor="end">Spain</text>
<text class="b" x="1341.4" y="252.35" font-size="33.3">32.7</text>
<rect x="308" y="272.50" width="983.1" height="20" fill="#871936"/>
<text x="297.8" y="292.00" font-size="33.1" text-anchor="end">Italy</text>
<text class="b" x="1305.5" y="292.10" font-size="33.3">31.4</text>
<rect x="308" y="312.25" width="654.4" height="20" fill="#E06B4F"/>
<text x="297.8" y="331.75" font-size="33.1" text-anchor="end">Croatia<tspan font-size="18" dy="-11">1</tspan></text>
<text class="b" x="973.9000000000001" y="331.85" font-size="33.3">20.9</text>
<rect x="308" y="352.00" width="629.3" height="20" fill="#E06B4F"/>
<text x="297.8" y="371.50" font-size="33.1" text-anchor="end">France</text>
<text class="b" x="948.4000000000001" y="371.60" font-size="33.3">20.1</text>
<rect x="308" y="391.75" width="538.5" height="20" fill="#E06B4F"/>
<text x="297.8" y="411.25" font-size="33.1" text-anchor="end">Portugal</text>
<text class="b" x="856.0" y="411.35" font-size="33.3">17.2</text>
<rect x="308" y="431.50" width="529.1" height="20" fill="#E06B4F"/>
<text x="297.8" y="451.00" font-size="33.1" text-anchor="end">Sweden</text>
<text class="b" x="845.8000000000001" y="451.10" font-size="33.3">16.9</text>
<rect x="308" y="471.25" width="522.9" height="20" fill="#E06B4F"/>
<text x="297.8" y="490.75" font-size="33.1" text-anchor="end">Finland</text>
<text class="b" x="837.3000000000001" y="490.85" font-size="33.3">16.7</text>
<rect x="308" y="511.00" width="522.9" height="20" fill="#E06B4F"/>
<text x="297.8" y="530.50" font-size="33.1" text-anchor="end">Cyprus<tspan font-size="18" dy="-11">3</tspan></text>
<text class="b" x="837.3000000000001" y="530.60" font-size="33.3">16.7</text>
<rect x="308" y="550.75" width="482.2" height="20" fill="#E06B4F"/>
<text x="297.8" y="570.25" font-size="33.1" text-anchor="end">Romania<tspan font-size="18" dy="-11">4</tspan></text>
<text class="b" x="799.3000000000001" y="570.35" font-size="33.3">15.4</text>
<rect x="308" y="590.50" width="444.6" height="20" fill="#F2AA91"/>
<text class="b i" x="300.3" y="610.00" font-size="33.1" text-anchor="end">EU</text>
<text class="b i" x="764.8000000000001" y="610.10" font-size="33.3">14.2</text>
<rect x="308" y="630.25" width="428.9" height="20" fill="#F2AA91"/>
<text x="297.8" y="649.75" font-size="33.1" text-anchor="end">Bulgaria</text>
<text class="b" x="744.7" y="649.85" font-size="33.3">13.7</text>
<rect x="308" y="670.00" width="407.0" height="20" fill="#F2AA91"/>
<text x="297.8" y="689.50" font-size="33.1" text-anchor="end">Luxembourg</text>
<text class="b" x="721.3000000000001" y="689.60" font-size="33.3">13.0</text>
<rect x="308" y="709.75" width="403.9" height="20" fill="#F2AA91"/>
<text x="297.8" y="729.25" font-size="33.1" text-anchor="end">Belgium<tspan font-size="18" dy="-11">1</tspan></text>
<text class="b" x="719.2" y="729.35" font-size="33.3">12.9</text>
<rect x="308" y="749.50" width="375.7" height="20" fill="#F2AA91"/>
<text x="297.8" y="769.00" font-size="33.1" text-anchor="end">Slovakia</text>
<text class="b" x="687.8000000000001" y="769.10" font-size="33.3">12.0</text>
<rect x="308" y="789.25" width="360.1" height="20" fill="#F2AA91"/>
<text x="297.8" y="808.75" font-size="33.1" text-anchor="end">Latvia</text>
<text class="b" x="676.3000000000001" y="808.85" font-size="33.3">11.5</text>
<rect x="308" y="829.00" width="353.8" height="20" fill="#F2AA91"/>
<text x="297.8" y="848.50" font-size="33.1" text-anchor="end">Hungary<tspan font-size="18" dy="-11">1</tspan></text>
<text class="b" x="667.6" y="848.60" font-size="33.3">11.3</text>
<rect x="308" y="868.75" width="338.1" height="20" fill="#F2AA91"/>
<text x="297.8" y="888.25" font-size="33.1" text-anchor="end">Lithunia</text>
<text class="b" x="658.0" y="888.35" font-size="33.3">10.8</text>
<rect x="308" y="908.50" width="331.9" height="20" fill="#F2AA91"/>
<text x="297.8" y="928.00" font-size="33.1" text-anchor="end">Poland</text>
<text class="b" x="652.0" y="928.10" font-size="33.3">10.6</text>
<rect x="308" y="948.25" width="322.5" height="20" fill="#F2AA91"/>
<text x="297.8" y="967.75" font-size="33.1" text-anchor="end">Ireland</text>
<text class="b" x="644.1" y="967.85" font-size="33.3">10.3</text>
<rect x="308" y="988.00" width="319.4" height="20" fill="#F2AA91"/>
<text x="297.8" y="1007.50" font-size="33.1" text-anchor="end">Great Britain<tspan font-size="18" dy="-11">2</tspan></text>
<text class="b" x="637.1" y="1007.60" font-size="33.3">10.2</text>
<rect x="308" y="1027.75" width="303.7" height="20" fill="#F2AA91"/>
<text x="297.8" y="1047.25" font-size="33.1" text-anchor="end">Malta</text>
<text class="b" x="623.2" y="1047.35" font-size="33.3">9.7</text>
<rect x="308" y="1067.50" width="297.4" height="20" fill="#F2AA91"/>
<text x="297.8" y="1087.00" font-size="33.1" text-anchor="end">Denmark</text>
<text class="b" x="615.8000000000001" y="1087.10" font-size="33.3">9.5</text>
<rect x="308" y="1107.25" width="256.7" height="20" fill="#F2AA91"/>
<text x="297.8" y="1126.75" font-size="33.1" text-anchor="end">Austria</text>
<text class="b" x="581.8000000000001" y="1126.85" font-size="33.3">8.2</text>
<rect x="308" y="1147.00" width="244.2" height="20" fill="#F2AA91"/>
<text x="297.8" y="1166.50" font-size="33.1" text-anchor="end">Slovenia<tspan font-size="18" dy="-11">1</tspan></text>
<text class="b" x="566.0" y="1166.60" font-size="33.3">7.8</text>
<rect x="308" y="1186.75" width="238.0" height="20" fill="#F2AA91"/>
<text x="297.8" y="1206.25" font-size="33.1" text-anchor="end">Estonia<tspan font-size="18" dy="-11">1</tspan></text>
<text class="b" x="559.8000000000001" y="1206.35" font-size="33.3">7.6</text>
<rect x="308" y="1226.50" width="216.0" height="20" fill="#F2AA91"/>
<text x="297.8" y="1246.00" font-size="33.1" text-anchor="end">Czech Republic</text>
<text class="b" x="541.8000000000001" y="1246.10" font-size="33.3">6.9</text>
<rect x="308" y="1266.25" width="194.1" height="20" fill="#F2AA91"/>
<text x="297.8" y="1285.75" font-size="33.1" text-anchor="end">The Netherlands</text>
<text class="b" x="518.4000000000001" y="1285.85" font-size="33.3">6.2</text>
<rect x="308" y="1306.00" width="165.9" height="20" fill="#F2AA91"/>
<text x="297.8" y="1325.50" font-size="33.1" text-anchor="end">Germany</text>
<text class="b" x="487.4" y="1325.60" font-size="33.3">5.3</text>
<rect x="988.3" y="492.0" width="28.2" height="27.8" fill="#871936"/>
<text x="1024.5" y="517.3" font-size="33.1">30.0 % and more</text>
<rect x="988.3" y="531.1" width="28.2" height="27.8" fill="#E06B4F"/>
<text x="1024.5" y="557.1" font-size="33.1">15.0 to 29.9</text>
<rect x="988.3" y="572.1" width="28.2" height="27.8" fill="#F2AA91"/>
<text x="1024.5" y="596.7" font-size="33.1">up to 14.9</text>
<text x="296.5" y="1389" font-size="28.85">Source: Eurostat</text>
<text x="650" y="1275.1" font-size="14">1</text>
<text x="663.2" y="1284.6" font-size="28.9">March 2019</text>
<text x="650" y="1309.5" font-size="14">2</text>
<text x="663.2" y="1319.0" font-size="28.9">February 2019</text>
<text x="650" y="1344.0" font-size="14">3</text>
<text x="663.2" y="1353.5" font-size="28.9">1. quarter 2019</text>
<text x="650" y="1378.4" font-size="14">4</text>
<text x="663.2" y="1387.9" font-size="28.9">4. quarter 2018</text>
<text class="b" transform="translate(1683.2,1193.3) rotate(-90)" font-size="28.4" textLength="131.5" lengthAdjust="spacingAndGlyphs">© Globus</text>
<rect x="1605.3" y="1206" width="79.8" height="133.2" fill="#fff" stroke="#000" stroke-width="2"/>
<path d="M1667.5,1231.7A26.2,26.2 0 1 0 1669.6,1247.3" fill="none" stroke="#000" stroke-width="8.8"/>
<rect x="1647.4" y="1242.3" width="26.5" height="8.5" fill="#000"/>
<rect x="1626.1" y="1278.4" width="42.5" height="8.5" fill="#000"/>
<path d="M1651.6,1270.5L1657,1279.5M1624.4,1213.2L1628.4,1219.2" fill="none" stroke="#000" stroke-width="1.8"/>
<text transform="translate(1609.6,1331.6) scale(0.645,1)" x="0" y="0" font-size="38.5">13261</text>
</svg>
</body></html>
